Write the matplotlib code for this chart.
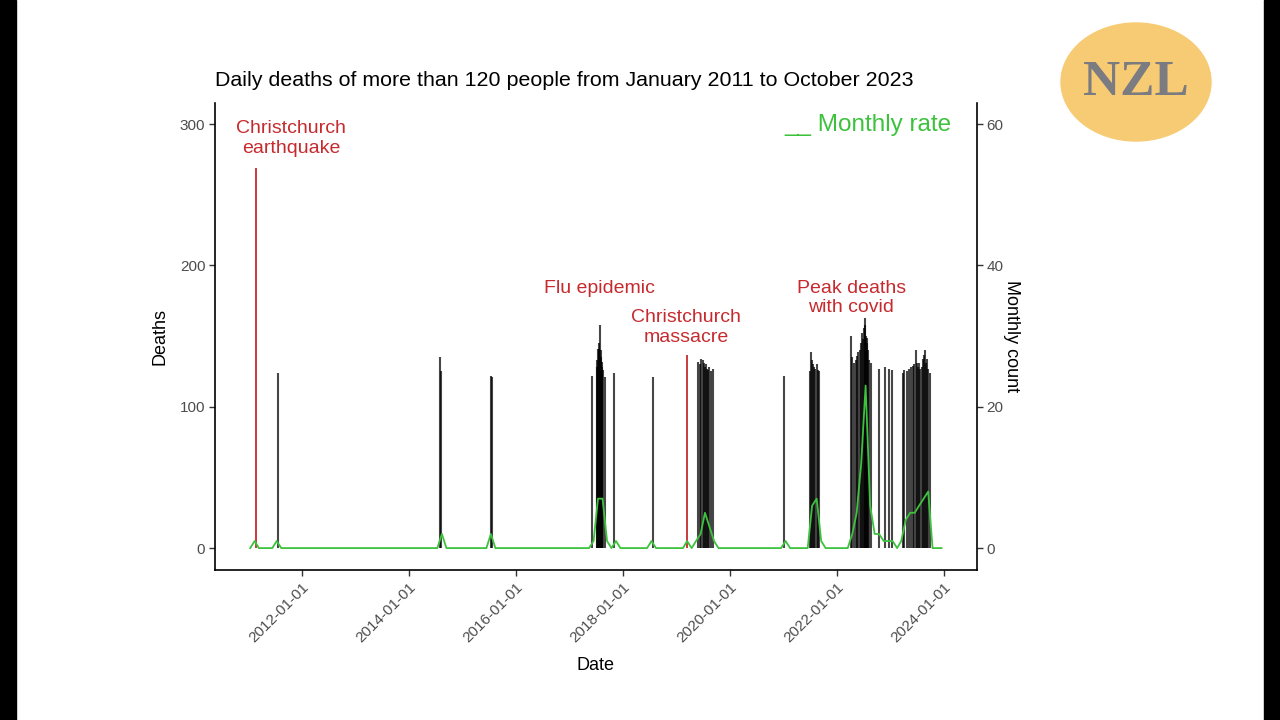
import pandas as pd
import matplotlib
matplotlib.use("Agg")
import matplotlib.pyplot as plt
import matplotlib.transforms as mtransforms
from matplotlib.patches import Ellipse, Rectangle

plt.rcParams['font.family'] = ['Liberation Sans', 'DejaVu Sans']

# Days with more than 120 deaths (date, deaths)
death_dates = [
    '2011-07-25',
    '2014-08-01', '2014-08-10', '2015-07-16', '2015-07-20',
    '2017-06-03', '2017-07-05', '2017-07-10', '2017-07-15', '2017-07-19',
    '2017-07-24', '2017-07-30', '2017-08-03', '2017-08-07', '2017-08-11',
    '2017-08-14', '2017-08-20', '2017-08-31', '2017-11-04', '2018-07-27',
    '2019-05-26', '2019-06-10', '2019-06-20', '2019-07-02', '2019-07-08',
    '2019-07-14', '2019-07-20', '2019-07-28', '2019-08-05', '2019-08-14',
    '2019-08-24', '2019-09-08', '2021-01-02',
    '2021-07-01', '2021-07-08', '2021-07-15', '2021-07-22', '2021-07-30',
    '2021-08-06', '2021-08-14', '2021-08-22', '2021-09-01',
    '2022-04-04', '2022-04-15', '2022-04-28', '2022-05-08', '2022-05-18',
    '2022-05-27', '2022-06-05', '2022-06-12', '2022-06-20', '2022-06-27',
    '2022-07-04', '2022-07-10', '2022-07-14', '2022-07-18', '2022-07-22',
    '2022-07-27', '2022-08-02', '2022-08-10', '2022-08-18',
    '2022-10-17', '2022-11-24', '2022-12-23', '2023-01-14',
    '2023-03-28', '2023-04-03', '2023-04-23', '2023-05-08', '2023-05-21',
    '2023-06-01', '2023-06-10', '2023-06-24', '2023-06-30', '2023-07-06',
    '2023-07-14', '2023-07-24', '2023-08-04', '2023-08-12', '2023-08-18',
    '2023-08-24', '2023-08-30', '2023-09-07', '2023-09-15', '2023-09-27',
]
death_counts = [
    124,
    135, 125, 122, 121,
    122, 128, 133, 141, 141,
    145, 158, 140, 135, 132,
    128, 126, 121, 124, 121,
    132, 130, 134, 133, 131,
    128, 130, 127, 126, 128,
    125, 127, 122,
    125, 139, 133, 130, 128,
    127, 130, 126, 125,
    150, 135, 131, 133, 136,
    139, 140, 145, 152, 148,
    156, 163, 158, 150, 145,
    149, 140, 133, 131,
    127, 128, 127, 126,
    124, 126, 125, 127, 128,
    129, 130, 140, 131, 128,
    131, 127, 128, 134, 137,
    140, 131, 134, 127, 124,
]

# Marked events, drawn in red
event_dates = ['2011-02-22', '2019-03-15']
event_deaths = [269, 137]

# Monthly count of such days (months not listed are zero)
monthly_nonzero = {
    '2011-02': 1, '2011-07': 1, '2014-08': 2, '2015-07': 2,
    '2017-06': 1, '2017-07': 7, '2017-08': 7, '2017-09': 1, '2017-11': 1,
    '2018-07': 1, '2019-03': 1, '2019-05': 1, '2019-06': 2, '2019-07': 5,
    '2019-08': 3, '2019-09': 1, '2021-01': 1, '2021-07': 6, '2021-08': 7,
    '2021-09': 1, '2022-04': 2, '2022-05': 5, '2022-06': 12, '2022-07': 23,
    '2022-08': 6, '2022-09': 2, '2022-10': 2, '2022-11': 1, '2022-12': 1,
    '2023-01': 1, '2023-03': 1, '2023-04': 4, '2023-05': 5, '2023-06': 5,
    '2023-07': 6, '2023-08': 7, '2023-09': 8,
}
months = pd.date_range('2011-01-01', '2023-12-01', freq='MS')
monthly_count = [monthly_nonzero.get(m.strftime('%Y-%m'), 0) for m in months]

# Red annotations: text, date, deaths level
notes = [
    ('Christchurch\nearthquake', '2011-10-20', 290),
    ('Flu epidemic', '2017-07-25', 184),
    ('Christchurch\nmassacre', '2019-03-10', 156),
    ('Peak deaths\nwith covid', '2022-04-07', 177),
]

red = '#c62a2e'
green = '#3dc23d'
grey = '#4d4d4d'

fig = plt.figure(figsize=(12.8, 7.2), dpi=100)
fig.patch.set_facecolor('white')

ax = fig.add_axes([215/1280, 150/720, 762/1280, 467/720])
ax.vlines(pd.to_datetime(death_dates), 0, death_counts, color='black', alpha=0.72, lw=1.5)
ax.vlines(pd.to_datetime(event_dates), 0, event_deaths, color=red, lw=1.3)
ax.set_xlim(pd.Timestamp('2010-05-20'), pd.Timestamp('2024-08-13'))
ax.set_ylim(-15.5, 315)
ax.set_yticks([0, 100, 200, 300])

xt = pd.to_datetime([f'{y}-01-01' for y in range(2012, 2025, 2)])
ax.set_xticks(xt)
ax.set_xticklabels([d.strftime('%Y-%m-%d') for d in xt], rotation=45,
                   ha='right', rotation_mode='anchor')
shift = mtransforms.ScaledTranslation(-3/72, -2/72, fig.dpi_scale_trans)
for lab in ax.get_xticklabels():
    lab.set_transform(lab.get_transform() + shift)

for s in ['top', 'right']:
    ax.spines[s].set_visible(False)
for s in ['left', 'bottom']:
    ax.spines[s].set_linewidth(1.2)
ax.tick_params(length=4, width=1, color='#333333', labelcolor=grey, labelsize=11, pad=3)
ax.set_xlabel('Date', fontsize=13, labelpad=9)
ax.set_ylabel('Deaths', fontsize=13, labelpad=8)

for txt, d, y in notes:
    ax.text(pd.Timestamp(d), y, txt, color=red, fontsize=14, ha='center',
            va='center', linespacing=1.2)

ax2 = ax.twinx()
ax2.plot(months + pd.Timedelta(days=14), monthly_count, color=green, lw=1.3)
ax2.set_ylim(-3.1, 63)
ax2.set_yticks([0, 20, 40, 60])
for s in ['top', 'left', 'bottom']:
    ax2.spines[s].set_visible(False)
ax2.spines['right'].set_linewidth(1.2)
ax2.tick_params(length=4, width=1, color='#333333', labelcolor=grey, labelsize=11, pad=3)
ax2.set_ylabel('Monthly count', fontsize=13, rotation=270, labelpad=12)

ax.text(0.967, 0.953, '__ Monthly rate', transform=ax.transAxes, color=green,
        fontsize=17.5, ha='right', va='center')

fig.text(215/1280, 1 - 81/720,
         'Daily deaths of more than 120 people from January 2011 to October 2023',
         ha='left', va='center', fontsize=15.4)

# logo
fig.add_artist(Ellipse((1136/1280, 1 - 82/720), 150/1280, 118/720,
                       transform=fig.transFigure, color='#f7cb74', zorder=0))
fig.text(1136/1280, 1 - 83/720, 'NZL', ha='center', va='center', fontsize=37,
         family='Liberation Serif', weight='bold', color='#7b7b82')

# dark side borders
fig.add_artist(Rectangle((0, 0), 16/1280, 1, transform=fig.transFigure, color='black'))
fig.add_artist(Rectangle((1264/1280, 0), 16/1280, 1, transform=fig.transFigure, color='black'))

fig.savefig('out.png', dpi=100)
